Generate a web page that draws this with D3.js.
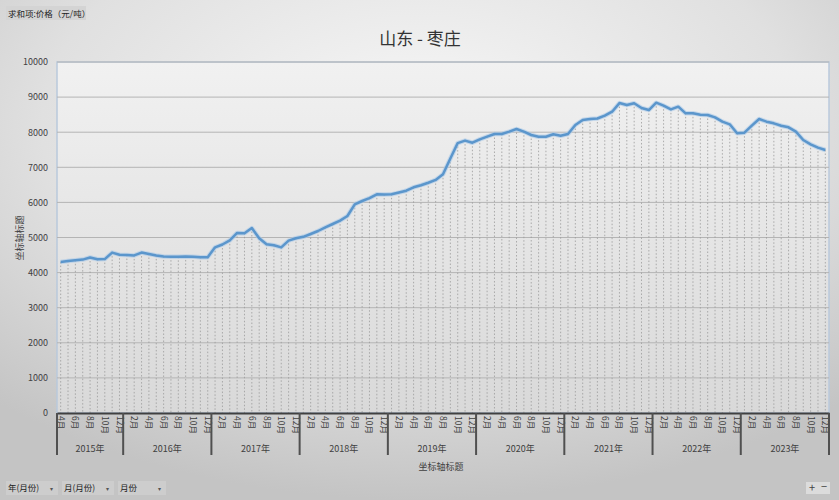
<!DOCTYPE html>
<html><head><meta charset="utf-8">
<script src="https://cdn.jsdelivr.net/npm/d3@7/dist/d3.min.js"></script>
<style>body{margin:0;}svg{display:block;font-family:"Noto Sans CJK SC","Noto Sans",sans-serif;}</style>
</head><body><svg id="c" width="839" height="500"></svg>
<script>
const title = "山东 - 枣庄";
const years = [2015,2016,2017,2018,2019,2020,2021,2022,2023];
const firstMonth2015 = 4;
const values = [
 4300,4330,4350,4370,4430,4380,4385,4570,4510,
 4500,4490,4570,4530,4490,4460,4455,4450,4460,4455,4440,4440,
 4720,4800,4920,5130,5120,5270,4980,4810,4780,4720,4910,4980,
 5020,5100,5185,5290,5385,5480,5612,5946,6040,6120,6230,6225,
 6230,6280,6333,6430,6490,6560,6640,6800,7250,7690,7760,7700,
 7796,7872,7949,7949,8015,8091,8015,7920,7872,7872,7940,7900,
 7949,8205,8348,8376,8390,8470,8584,8830,8775,8823,8690,8632,
 8840,8755,8652,8727,8538,8538,8500,8490,8424,8300,8225,7968,
 7987,8185,8376,8300,8253,8185,8139,8015,7778,7655,7560,7493
];
const yTicks = [0,1000,2000,3000,4000,5000,6000,7000,8000,9000,10000];
const axisTitle = "坐标轴标题";
const fieldButton = "求和项:价格（元/吨）";
const filterButtons = ["年(月份)","月(月份)","月份"];

// build categories
const cats = [];
years.forEach((y,yi)=>{
  const start = yi===0 ? firstMonth2015 : 1;
  for(let m=start;m<=12;m++) cats.push({year:y, month:m, key:y+"-"+m});
});

const svg = d3.select("#c");
const W=839,H=500;
const defs = svg.append("defs");
const bg = defs.append("radialGradient").attr("id","bg").attr("cx","50%").attr("cy","25%").attr("r","75%");
bg.append("stop").attr("offset","0%").attr("stop-color","#f7f7f7");
bg.append("stop").attr("offset","60%").attr("stop-color","#e0e0e0");
bg.append("stop").attr("offset","100%").attr("stop-color","#c4c4c4");
const pg = defs.append("linearGradient").attr("id","pg").attr("x1","0").attr("y1","0").attr("x2","0").attr("y2","1");
pg.append("stop").attr("offset","0%").attr("stop-color","#f1f1f1");
pg.append("stop").attr("offset","100%").attr("stop-color","#d9d9d9");
svg.append("rect").attr("width",W).attr("height",H).attr("fill","url(#bg)");

const L=57,R=829,T=62,B=413;
const x = d3.scaleBand().domain(cats.map(c=>c.key)).range([L,R]).padding(0);
const y = d3.scaleLinear().domain([0,10000]).range([B,T]);

svg.append("rect").attr("x",L).attr("y",T).attr("width",R-L).attr("height",B-T)
  .attr("fill","url(#pg)").attr("stroke","#b9c9dc").attr("stroke-width",1.5);

// gridlines
svg.append("g").selectAll("line").data(yTicks.filter(d=>d>0)).join("line")
  .attr("x1",L).attr("x2",R).attr("y1",d=>y(d)).attr("y2",d=>y(d))
  .attr("stroke","#b4b4b4").attr("stroke-width",1);

// y axis labels
const ya = svg.append("g").attr("transform",`translate(${L},0)`)
  .call(d3.axisLeft(y).tickValues(yTicks).tickFormat(d3.format("d")).tickSize(0).tickPadding(9));
ya.select(".domain").remove();
ya.selectAll("text").attr("font-size",9).attr("fill","#404040").attr("font-family","'Noto Sans CJK SC',sans-serif");

// drop lines
const cx = k => x(k)+x.bandwidth()/2;
svg.append("g").selectAll("line").data(cats).join("line")
  .attr("x1",(d)=>cx(d.key)).attr("x2",d=>cx(d.key))
  .attr("y1",(d,i)=>y(values[i])).attr("y2",B)
  .attr("stroke","#9a9a9a").attr("stroke-width",0.8).attr("stroke-dasharray","1.5,2");

// line
const line = d3.line().x((d,i)=>cx(cats[i].key)).y(d=>y(d));
svg.append("path").datum(values).attr("d",line).attr("fill","none")
  .attr("stroke","#a9c8e8").attr("stroke-width",4.5).attr("stroke-opacity",0.6).attr("stroke-linejoin","round");
svg.append("path").datum(values).attr("d",line).attr("fill","none")
  .attr("stroke","#5b96cc").attr("stroke-width",2.5).attr("stroke-linejoin","round");

// x axis
const xa = svg.append("g").attr("transform",`translate(0,${B})`)
  .call(d3.axisBottom(x).tickSize(0).tickFormat(k=>{const c=cats.find(c=>c.key===k);return c.month%2===0?c.month+"月":"";}));
xa.select(".domain").attr("stroke","#404040").attr("stroke-width",2);
xa.selectAll("text").attr("font-size",8.5).attr("fill","#404040")
  .attr("transform","rotate(90)").attr("text-anchor","start").attr("dy","0.35em").attr("dx",0).attr("x",3).attr("y",0)
  .attr("font-family","'Noto Sans CJK SC',sans-serif");

// year groups
const groups = years.map(yv=>{
  const cs = cats.filter(c=>c.year===yv);
  return {year:yv, x0:x(cs[0].key), x1:x(cs[cs.length-1].key)+x.bandwidth()};
});
const sepX = [groups[0].x0].concat(groups.map(g=>g.x1));
svg.append("g").selectAll("line").data(sepX).join("line")
  .attr("x1",d=>d).attr("x2",d=>d).attr("y1",B).attr("y2",455)
  .attr("stroke","#505050").attr("stroke-width",2);
svg.append("g").selectAll("text").data(groups).join("text")
  .attr("x",g=>(g.x0+g.x1)/2).attr("y",452).attr("text-anchor","middle")
  .attr("font-size",9).attr("fill","#404040").text(g=>g.year+"年");

// titles
svg.append("text").attr("x",420).attr("y",45).attr("text-anchor","middle")
  .attr("font-size",17).attr("fill","#333").text(title);
svg.append("text").attr("x",441).attr("y",470).attr("text-anchor","middle")
  .attr("font-size",9).attr("fill","#404040").text(axisTitle);
svg.append("text").attr("transform","translate(23,238) rotate(-90)").attr("text-anchor","middle")
  .attr("font-size",9).attr("fill","#404040").text(axisTitle);

// field button top-left
svg.append("rect").attr("x",6).attr("y",6).attr("width",80).attr("height",14).attr("fill","#d4d4d4");
svg.append("text").attr("x",8).attr("y",17).attr("font-size",8.5).attr("fill","#222").text(fieldButton);

// bottom filter buttons
let bx=6;
const bw=[40,40,36];
filterButtons.forEach((t,i)=>{
  svg.append("rect").attr("x",bx).attr("y",481).attr("width",bw[i]+12).attr("height",14).attr("fill","#cdcdcd");
  svg.append("text").attr("x",bx+2).attr("y",491).attr("font-size",8.5).attr("fill","#222").text(t);
  svg.append("text").attr("x",bx+bw[i]+4).attr("y",491).attr("font-size",6).attr("fill","#555").text("▾");
  bx += bw[i]+16;
});
// +/- buttons
svg.append("rect").attr("x",806).attr("y",482).attr("width",24).attr("height",12).attr("fill","#dcdcdc");
svg.append("text").attr("x",812).attr("y",492).attr("text-anchor","middle").attr("font-size",11).attr("fill","#444").text("+");
svg.append("text").attr("x",824).attr("y",491).attr("text-anchor","middle").attr("font-size",11).attr("fill","#444").text("−");
</script></body></html>
